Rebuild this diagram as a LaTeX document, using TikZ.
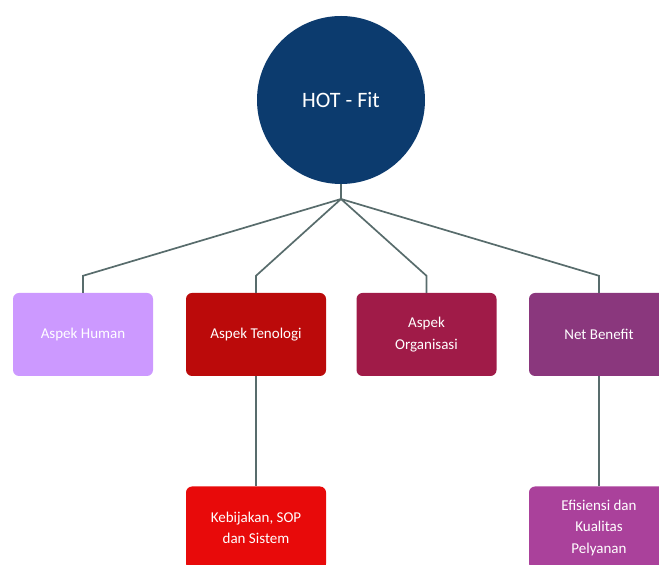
\documentclass[tikz,border=0pt]{standalone}
\usepackage{fontspec}
\setmainfont{Carlito}
\usetikzlibrary{positioning,calc}
\definecolor{hotblue}{RGB}{12,59,110}
\definecolor{humanviolet}{RGB}{204,153,255}
\definecolor{teknored}{RGB}{187,10,10}
\definecolor{organred}{RGB}{160,27,72}
\definecolor{netpurple}{RGB}{138,55,125}
\definecolor{kebijakanred}{RGB}{232,10,10}
\definecolor{efisiensipurple}{RGB}{170,65,155}
\definecolor{linkgray}{RGB}{88,108,108}
\tikzset{
  aspekbox/.style={rectangle, rounded corners=6pt, minimum width=140pt, minimum height=83pt,
    text=white, align=center, font=\fontsize{15}{21.5}\selectfont},
  link/.style={draw=linkgray, line width=1.7pt}
}

\begin{document}
\begin{tikzpicture}[x=1pt,y=1pt]
    \useasboundingbox (0,0) rectangle (659,565);
    \clip (0,0) rectangle (659,565);

    % Centre
    \node[circle, fill=hotblue, minimum size=168pt, text=white, font=\fontsize{22}{26}\selectfont] (hot) at (341,465) {HOT - Fit};
    \coordinate (hub) at (341,366);

    % Aspek row
    \node[aspekbox, fill=humanviolet] (human) at (83,230.5) {Aspek Human};
    \node[aspekbox, fill=teknored] (tekno) at (256,230.5) {Aspek Tenologi};
    \node[aspekbox, fill=organred] (organ) at (426.5,230.5) {Aspek\\Organisasi};
    \node[aspekbox, fill=netpurple] (net) at (599,230.5) {Net Benefit};

    % Lower row
    \node[aspekbox, fill=kebijakanred] (kebijakan) at (256,37) {Kebijakan, SOP\\dan Sistem};
    \node[aspekbox, fill=efisiensipurple] (efisiensi) at (599,37) {Efisiensi dan\\Kualitas\\Pelyanan};

    % Connectors
    \draw[link] (hot.south) -- (hub);
    \foreach \b in {human,tekno,organ,net}
        \draw[link] (hub) -- ($(\b.north)+(0,17)$) -- (\b.north);
    \draw[link] (tekno.south) -- (kebijakan.north);
    \draw[link] (net.south) -- (efisiensi.north);
\end{tikzpicture}
\end{document}
